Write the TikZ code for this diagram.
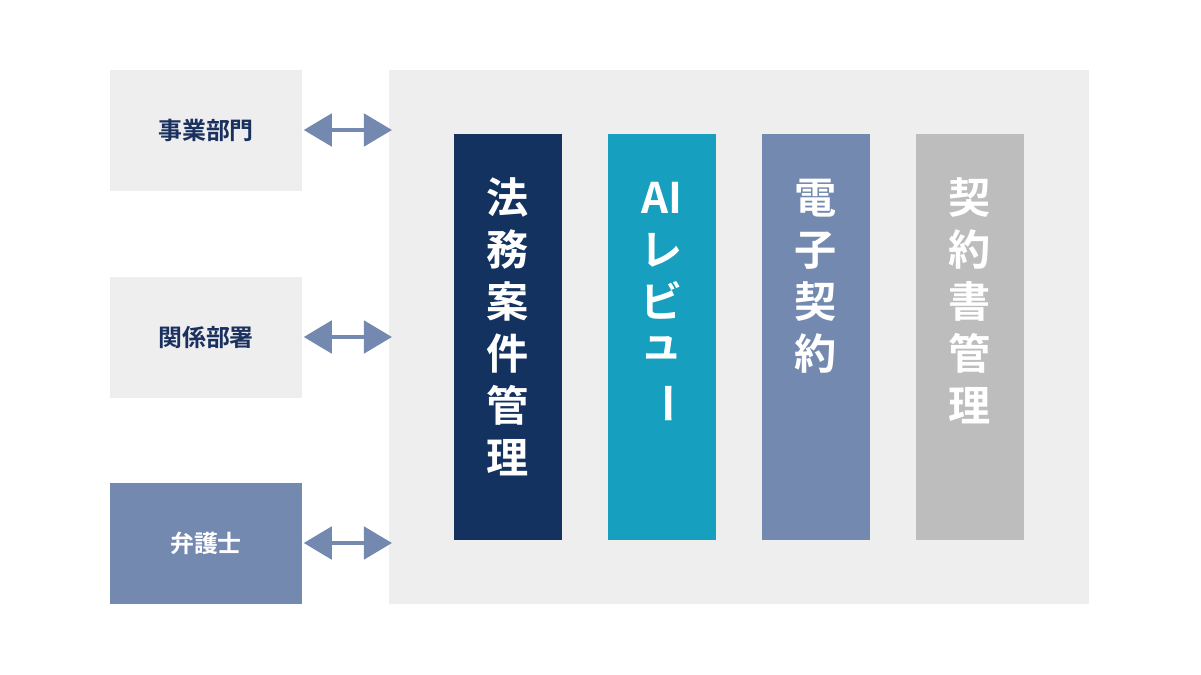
\documentclass[tikz,border=0pt]{standalone}
\usepackage{fontspec}
\setmainfont{Noto Sans CJK JP}[BoldFont={Noto Sans CJK JP Bold}]
\usetikzlibrary{arrows.meta}
\definecolor{navy}{HTML}{13325F}
\definecolor{teal}{HTML}{169FBE}
\definecolor{slate}{HTML}{7489B0}
\definecolor{silver}{HTML}{BDBDBD}
\definecolor{panel}{HTML}{EEEEEE}
\definecolor{ink}{HTML}{1A3160}
\tikzset{
	dept/.style={fill=panel, minimum width=4.8cm, minimum height=3.025cm, font=\fontsize{17}{17}\selectfont\bfseries, text=ink},
	pillar/.style={minimum width=2.7cm, minimum height=10.15cm, anchor=north, inner sep=0pt},
	caption/.style={text=white, font=\fontsize{30}{37}\selectfont\bfseries, anchor=north},
	link/.style={slate, line width=3pt, {Triangle[width=23pt,length=20pt]}-{Triangle[width=23pt,length=20pt]}}
}
\newcommand{\stack}[1]{\begin{tabular}{@{}c@{}}#1\end{tabular}}
\begin{document}
\begin{tikzpicture}[x=0.025cm, y=-0.025cm]
	\useasboundingbox (0,0) rectangle (1201,675);
	\fill[white] (0,0) rectangle (1201,675);
	\node (board) [fill=panel, minimum width=17.5cm, minimum height=13.35cm, inner sep=0pt] at (739,337) {};
	\node (biz) [dept] at (206,130.5) {事業部門};
	\node (rel) [dept] at (206,337.5) {関係部署};
	\node (law) [dept, fill=slate, text=white] at (206,543.5) {弁護士};
	\coordinate (p1) at (392,130);
	\coordinate (p2) at (392,337);
	\coordinate (p3) at (392,543);
	\draw [link] ([xshift=1pt]biz.east |- p1) -- (p1);
	\draw [link] ([xshift=1pt]rel.east |- p2) -- (p2);
	\draw [link] ([xshift=1pt]law.east |- p3) -- (p3);
	% columns
	\node (case) [pillar, fill=navy] at (508,134) {};
	\node (ai) [pillar, fill=teal] at (662,134) {};
	\node (esign) [pillar, fill=slate] at (816,134) {};
	\node (store) [pillar, fill=silver] at (970,134) {};
	\node [caption] at (case.north |- 0,172) {\stack{法\\務\\案\\件\\管\\理}};
	\node [caption] at (ai.north |- 0,172) {\stack{AI\\レ\\ビ\\[-8pt]ュ\\[-20pt]\rotatebox{-90}{ー}}};
	\node [caption] at (esign.north |- 0,172) {\stack{電\\子\\契\\約}};
	\node [caption] at (store.north |- 0,172) {\stack{契\\約\\書\\管\\理}};
\end{tikzpicture}
\end{document}
